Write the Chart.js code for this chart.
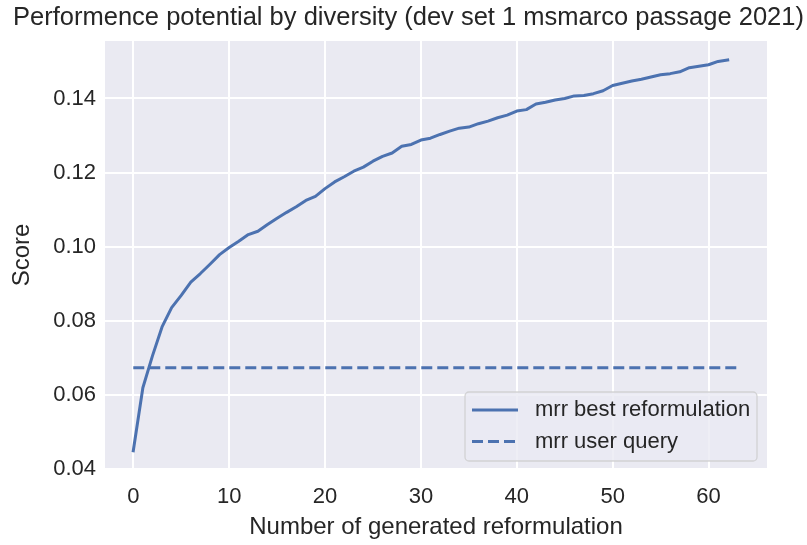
<!DOCTYPE html>
<html><head><meta charset="utf-8">
<script src="https://cdn.jsdelivr.net/npm/chart.js@4.4.0/dist/chart.umd.min.js"></script>
<style>html,body{margin:0;padding:0;background:#fff;}#wrap{width:807px;height:545px;}</style>
</head><body><div id="wrap"><canvas id="c" width="807" height="545"></canvas></div>
<script>
// ---- data ----
const reformulationCount = [0,1,2,3,4,5,6,7,8,9,10,11,12,13,14,15,16,17,18,19,20,21,22,23,24,25,26,27,28,29,30,31,32,33,34,35,36,37,38,39,40,41,42,43,44,45,46,47,48,49,50,51,52,53,54,55,56,57,58,59,60,61,62];
const mrrBestReformulation = [0.0450,0.0620,0.0706,0.0784,0.0836,0.0869,0.0905,0.0928,0.0953,0.0979,
  0.0998,0.1015,0.1033,0.1042,0.1060,0.1077,0.1093,0.1108,0.1125,0.1136,
  0.1157,0.1175,0.1189,0.1204,0.1215,0.1231,0.1244,0.1253,0.1271,0.1276,
  0.1288,0.1293,0.1303,0.1312,0.1320,0.1323,0.1332,0.1339,0.1348,0.1355,
  0.1366,0.1370,0.1385,0.1390,0.1396,0.1400,0.1407,0.1408,0.1413,0.1421,
  0.1435,0.1441,0.1447,0.1452,0.1458,0.1464,0.1467,0.1472,0.1483,0.1487,
  0.1491,0.1500,0.1504];
const userQueryX = [0, 63];
const mrrUserQuery = [0.0674, 0.0674];
const xTicks = [0, 10, 20, 30, 40, 50, 60];
const yTicks = [0.04, 0.06, 0.08, 0.10, 0.12, 0.14];
const seriesLabels = ['mrr best reformulation', 'mrr user query'];
const titleText = 'Performence potential by diversity (dev set 1 msmarco passage 2021)';
const xLabel = 'Number of generated reformulation';
const yLabel = 'Score';

// ---- styling ----
const FONT = '"Liberation Sans", Arial, sans-serif';
const TEXT = '#262626';
const BLUE = '#4C72B0';
Chart.defaults.font.family = FONT;
Chart.defaults.color = TEXT;

const bgPlugin = {
  id: 'bg',
  beforeDraw(chart) {
    const {ctx, chartArea: a} = chart;
    ctx.save();
    ctx.fillStyle = '#ffffff';
    ctx.fillRect(0, 0, chart.width, chart.height);
    ctx.fillStyle = '#EAEAF2';
    ctx.fillRect(a.left, a.top, a.right - a.left, a.bottom - a.top);
    ctx.restore();
  }
};

const legendPlugin = {
  id: 'insideLegend',
  afterDatasetsDraw(chart) {
    const {ctx, chartArea: a} = chart;
    const w = 292, h = 69;
    const x = a.right - 10 - w, y = a.bottom - 8 - h;
    ctx.save();
    ctx.beginPath();
    ctx.roundRect(x, y, w, h, 4);
    ctx.fillStyle = 'rgba(234,234,242,0.8)';
    ctx.fill();
    ctx.strokeStyle = 'rgba(204,204,204,0.8)';
    ctx.lineWidth = 1.3;
    ctx.stroke();
    ctx.font = '22px ' + FONT;
    ctx.fillStyle = TEXT;
    ctx.textBaseline = 'middle';
    ctx.textAlign = 'left';
    chart.data.datasets.forEach((ds, i) => {
      const ry = y + 18 + i * 31.5;
      ctx.beginPath();
      ctx.setLineDash(ds.borderDash || []);
      ctx.strokeStyle = ds.borderColor;
      ctx.lineWidth = ds.borderWidth;
      ctx.moveTo(x + 7, ry);
      ctx.lineTo(x + 53, ry);
      ctx.stroke();
      ctx.setLineDash([]);
      ctx.fillText(ds.label, x + 70, ry);
    });
    ctx.restore();
  }
};

new Chart(document.getElementById('c'), {
  type: 'line',
  data: {
    datasets: [
      {
        label: seriesLabels[0],
        data: reformulationCount.map((v, i) => ({x: v, y: mrrBestReformulation[i]})),
        borderColor: BLUE, borderWidth: 3, pointRadius: 0, fill: false,
        tension: 0, borderJoinStyle: 'round', borderCapStyle: 'square'
      },
      {
        label: seriesLabels[1],
        data: userQueryX.map((v, i) => ({x: v, y: mrrUserQuery[i]})),
        borderColor: BLUE, borderWidth: 3, pointRadius: 0, fill: false,
        borderDash: [11, 5], tension: 0
      }
    ]
  },
  options: {
    responsive: false,
    animation: false,
    devicePixelRatio: 1,
    layout: {padding: {left: 10, right: 0, top: 0, bottom: 0}},
    plugins: {
      legend: {display: false},
      tooltip: {enabled: false},
      title: {
        display: true, text: titleText, color: TEXT,
        font: {size: 25.5, weight: 'normal', family: FONT, lineHeight: 1.2},
        padding: {top: 3, bottom: 7.4}
      }
    },
    scales: {
      x: {
        type: 'linear', min: -2.95, max: 66.1,
        grid: {color: '#ffffff', lineWidth: 2, drawTicks: false},
        border: {display: false},
        ticks: {font: {size: 22, family: FONT}, color: TEXT, padding: 15},
        afterBuildTicks(s) { s.ticks = xTicks.map(v => ({value: v})); },
        afterFit(s) { s.height = 76; },
        title: {display: true, text: xLabel, color: TEXT,
          font: {size: 24, family: FONT, lineHeight: 1}, padding: {top: 0, bottom: 6}}
      },
      y: {
        type: 'linear', min: 0.0401, max: 0.1555,
        grid: {color: '#ffffff', lineWidth: 2, drawTicks: false},
        border: {display: false},
        ticks: {font: {size: 22, family: FONT}, color: TEXT, padding: 9,
          callback: v => v.toFixed(2)},
        afterBuildTicks(s) { s.ticks = yTicks.map(v => ({value: v})); },
        afterFit(s) { s.width = 95; },
        title: {display: true, text: yLabel, color: TEXT,
          font: {size: 24, family: FONT, lineHeight: 1}, padding: {top: 0, bottom: 0}}
      },
      yPad: {
        position: 'right', display: true,
        grid: {display: false}, border: {display: false},
        ticks: {display: false},
        afterFit(s) { s.width = 40; }
      }
    }
  },
  plugins: [bgPlugin, legendPlugin]
});
</script>
</body></html>
